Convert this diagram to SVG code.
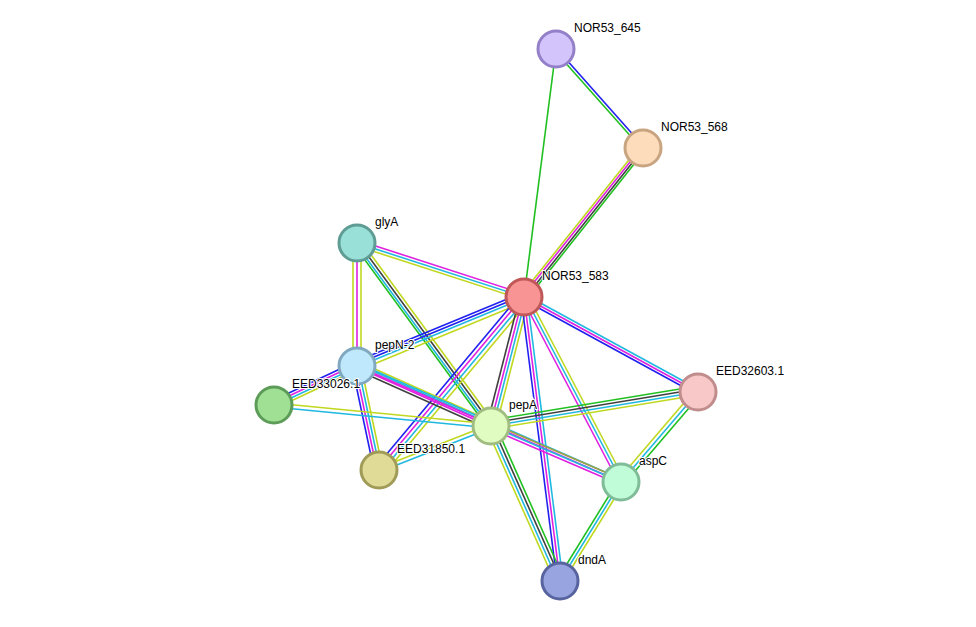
<svg xmlns="http://www.w3.org/2000/svg" width="976" height="627" viewBox="0 0 976 627">
<style>
line{stroke-width:1.6;fill:none}
.b{stroke:#2020f0}.g{stroke:#20c020}.m{stroke:#e020e0}.c{stroke:#20b8e0}.y{stroke:#c0d820}.k{stroke:#404040}.o{stroke:#a0a040}
circle{stroke-width:3}
text{font-family:"Liberation Sans",Arial,sans-serif;font-size:12px;fill:#000;paint-order:stroke;stroke:#fff;stroke-width:2px}
</style>
<rect width="976" height="627" fill="#fff"/>
<g id="edges">
<line class="b" x1="557" y1="49" x2="644" y2="147"/><line class="g" x1="555" y1="51" x2="642" y2="149"/>
<line class="g" x1="556" y1="49" x2="524" y2="297"/>
<line class="y" x1="640" y1="146" x2="521" y2="295"/><line class="m" x1="642" y1="147" x2="523" y2="296"/><line class="k" x1="644" y1="148" x2="525" y2="298"/><line class="g" x1="646" y1="149" x2="527" y2="299"/>
<line class="m" x1="357" y1="240" x2="524" y2="294"/><line class="c" x1="357" y1="243" x2="524" y2="297"/><line class="y" x1="357" y1="246" x2="524" y2="300"/>
<line class="y" x1="353" y1="243" x2="353" y2="366"/><line class="m" x1="357" y1="243" x2="357" y2="366"/><line class="y" x1="361" y1="243" x2="361" y2="366"/>
<line class="g" x1="354" y1="245" x2="488" y2="428"/><line class="c" x1="356" y1="244" x2="490" y2="427"/><line class="k" x1="358" y1="242" x2="492" y2="425"/><line class="y" x1="361" y1="241" x2="495" y2="424"/>
<line class="b" x1="357" y1="361" x2="524" y2="292"/><line class="b" x1="357" y1="364" x2="524" y2="295"/><line class="c" x1="357" y1="367" x2="524" y2="298"/><line class="y" x1="357" y1="371" x2="524" y2="302"/>
<line class="b" x1="375" y1="468" x2="520" y2="295"/><line class="m" x1="378" y1="470" x2="523" y2="297"/><line class="c" x1="381" y1="472" x2="526" y2="299"/><line class="y" x1="384" y1="474" x2="529" y2="301"/>
<line class="k" x1="487" y1="425" x2="520" y2="296"/><line class="m" x1="490" y1="426" x2="523" y2="297"/><line class="c" x1="493" y1="426" x2="526" y2="297"/><line class="y" x1="496" y1="427" x2="529" y2="298"/>
<line class="b" x1="557" y1="581" x2="521" y2="297"/><line class="m" x1="560" y1="581" x2="524" y2="297"/><line class="c" x1="563" y1="581" x2="527" y2="297"/>
<line class="m" x1="619" y1="483" x2="522" y2="298"/><line class="c" x1="622" y1="482" x2="525" y2="297"/><line class="y" x1="625" y1="481" x2="528" y2="296"/>
<line class="b" x1="524" y1="300" x2="698" y2="395"/><line class="m" x1="524" y1="297" x2="698" y2="392"/><line class="c" x1="524" y1="294" x2="698" y2="389"/>
<line class="b" x1="274" y1="400" x2="357" y2="361"/><line class="m" x1="274" y1="403" x2="357" y2="364"/><line class="c" x1="274" y1="406" x2="357" y2="367"/><line class="y" x1="274" y1="409" x2="357" y2="370"/>
<line class="y" x1="357" y1="361" x2="491" y2="421"/><line class="c" x1="357" y1="364" x2="491" y2="424"/><line class="m" x1="357" y1="367" x2="491" y2="427"/><line class="k" x1="357" y1="370" x2="491" y2="430"/>
<line class="m" x1="357" y1="366" x2="621" y2="482"/><line class="c" x1="357" y1="363" x2="621" y2="479"/>
<line class="b" x1="352" y1="366" x2="374" y2="470"/><line class="m" x1="355" y1="366" x2="377" y2="470"/><line class="c" x1="358" y1="366" x2="380" y2="470"/><line class="y" x1="361" y1="366" x2="383" y2="470"/>
<line class="y" x1="274" y1="403" x2="491" y2="424"/><line class="c" x1="274" y1="407" x2="491" y2="428"/>
<line class="y" x1="379" y1="468" x2="491" y2="424"/><line class="c" x1="379" y1="472" x2="491" y2="428"/>
<line class="g" x1="491" y1="420" x2="698" y2="386"/><line class="k" x1="491" y1="423" x2="698" y2="389"/><line class="c" x1="491" y1="426" x2="698" y2="392"/><line class="y" x1="491" y1="429" x2="698" y2="395"/>
<line class="m" x1="491" y1="429" x2="621" y2="485"/><line class="c" x1="491" y1="426" x2="621" y2="482"/><line class="o" x1="491" y1="423" x2="621" y2="479"/>
<line class="y" x1="486" y1="427" x2="555" y2="582"/><line class="c" x1="489" y1="426" x2="558" y2="581"/><line class="k" x1="492" y1="425" x2="561" y2="580"/><line class="g" x1="495" y1="424" x2="564" y2="579"/>
<line class="y" x1="618" y1="480" x2="695" y2="390"/><line class="c" x1="621" y1="482" x2="698" y2="392"/><line class="g" x1="624" y1="484" x2="701" y2="394"/>
<line class="g" x1="618" y1="481" x2="557" y2="580"/><line class="c" x1="621" y1="482" x2="560" y2="581"/><line class="y" x1="624" y1="483" x2="563" y2="582"/>
</g>
<g id="NOR53_645"><circle cx="556" cy="49" r="18" fill="#d4c4fc" stroke="#9480c8"/><text x="574" y="32">NOR53_645</text></g>
<g id="NOR53_568"><circle cx="643" cy="148" r="18" fill="#fddcbc" stroke="#c8a480"/><text x="661" y="131">NOR53_568</text></g>
<g id="glyA"><circle cx="357" cy="243" r="18" fill="#98e0d8" stroke="#5e9c94"/><text x="375" y="226">glyA</text></g>
<g id="NOR53_583"><circle cx="524" cy="297" r="18" fill="#f89494" stroke="#c05858"/><text x="542" y="280">NOR53_583</text></g>
<g id="pepN-2"><circle cx="357" cy="366" r="18" fill="#c0e8fc" stroke="#80a8c0"/><text x="375" y="349">pepN-2</text></g>
<g id="EED33026.1"><circle cx="274" cy="405" r="18" fill="#a0e094" stroke="#5c9c58"/><text x="292" y="388">EED33026.1</text></g>
<g id="pepA"><circle cx="491" cy="426" r="18" fill="#e0fcc0" stroke="#a0bc80"/><text x="509" y="409">pepA</text></g>
<g id="EED31850.1"><circle cx="379" cy="470" r="18" fill="#e0dc98" stroke="#a09c58"/><text x="397" y="453">EED31850.1</text></g>
<g id="EED32603.1"><circle cx="698" cy="392" r="18" fill="#f8c8c8" stroke="#c08c8c"/><text x="716" y="375">EED32603.1</text></g>
<g id="aspC"><circle cx="621" cy="482" r="18" fill="#c0fcd8" stroke="#80bc98"/><text x="639" y="465">aspC</text></g>
<g id="dndA"><circle cx="560" cy="581" r="18" fill="#98a4e0" stroke="#5864a0"/><text x="578" y="564">dndA</text></g>
</svg>
